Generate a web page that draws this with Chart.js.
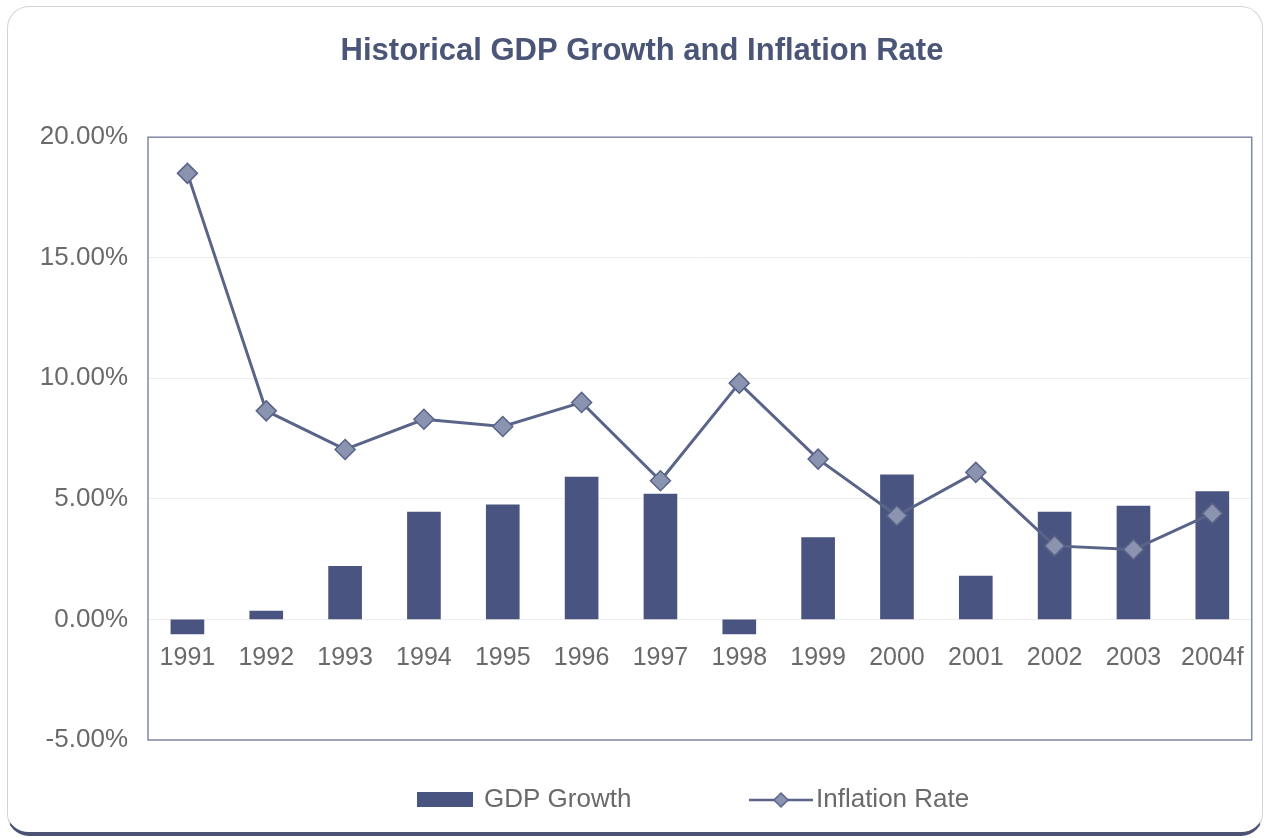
<!DOCTYPE html>
<html>
<head>
<meta charset="utf-8">
<script src="https://cdn.jsdelivr.net/npm/chart.js@4.4.1/dist/chart.umd.min.js"></script>
<style>
  html, body { margin: 0; padding: 0; background: #fff; }
  #card {
    position: absolute; left: 7px; top: 6px; width: 1256px; height: 830px;
    border: 1px solid #d4d4d8; border-bottom: 4px solid #4b5274;
    border-radius: 22px; box-sizing: border-box;
  }
  #myChart { position: absolute; left: 0; top: 0; }
</style>
</head>
<body>
<div id="card"></div>
<canvas id="myChart" width="1268" height="838"></canvas>
<script>
  // chart data
  var years = ["1991", "1992", "1993", "1994", "1995", "1996", "1997", "1998", "1999", "2000", "2001", "2002", "2003", "2004f"];
  var gdpGrowth = [-0.6, 0.35, 2.2, 4.45, 4.75, 5.9, 5.2, -0.6, 3.4, 6.0, 1.8, 4.45, 4.7, 5.3];
  var inflationRate = [18.5, 8.65, 7.05, 8.3, 8.0, 9.0, 5.75, 9.8, 6.65, 4.3, 6.1, 3.05, 2.9, 4.4];

  var barColor = "#4a5480";
  var lineColor = "#5a6488";
  var textColor = "#6a6a6a";
  var fontFam = "'Liberation Sans', Arial, sans-serif";

  // plot frame + custom legend
  var framePlugin = {
    id: "frame",
    beforeDatasetsDraw: function(chart) {
      var a = chart.chartArea, ctx = chart.ctx;
      ctx.save();
      ctx.strokeStyle = "#7f88a6";
      ctx.lineWidth = 1.5;
      ctx.strokeRect(a.left, a.top, a.right - a.left, a.bottom - a.top);
      ctx.restore();
    },
    afterDraw: function(chart) {
      var ctx = chart.ctx;
      var cy = 800;
      ctx.save();
      ctx.font = "26px " + fontFam;
      ctx.textBaseline = "middle";
      // GDP Growth
      ctx.fillStyle = barColor;
      ctx.fillRect(417, cy - 8, 56, 15);
      ctx.fillStyle = textColor;
      ctx.fillText(chart.data.datasets[1].label, 484, cy);
      // Inflation Rate
      ctx.strokeStyle = lineColor;
      ctx.lineWidth = 2.5;
      ctx.beginPath();
      ctx.moveTo(749, cy);
      ctx.lineTo(813, cy);
      ctx.stroke();
      ctx.beginPath();
      ctx.moveTo(781, cy - 7);
      ctx.lineTo(788, cy);
      ctx.lineTo(781, cy + 7);
      ctx.lineTo(774, cy);
      ctx.closePath();
      ctx.fillStyle = "#8a93b0";
      ctx.fill();
      ctx.lineWidth = 1.5;
      ctx.stroke();
      ctx.fillStyle = textColor;
      ctx.fillText(chart.data.datasets[0].label, 816, cy);
      ctx.restore();
    }
  };

  var ctx = document.getElementById("myChart").getContext("2d");
  var myChart = new Chart(ctx, {
    data: {
      labels: years,
      datasets: [{
        type: "line",
        label: "Inflation Rate",
        data: inflationRate,
        order: 0,
        borderColor: lineColor,
        borderWidth: 3,
        tension: 0,
        pointStyle: "rectRot",
        pointRadius: 10,
        pointBackgroundColor: "#8a93b0",
        pointBorderColor: lineColor,
        pointBorderWidth: 1.5
      }, {
        type: "bar",
        label: "GDP Growth",
        data: gdpGrowth,
        order: 1,
        backgroundColor: barColor,
        barThickness: 33
      }]
    },
    options: {
      responsive: false,
      animation: false,
      layout: { padding: { left: 25, right: 9, top: 0, bottom: 98 } },
      plugins: {
        legend: { display: false },
        tooltip: { enabled: false },
        title: {
          display: true,
          text: "Historical GDP Growth and Inflation Rate",
          color: "#4b5577",
          font: { family: fontFam, size: 31, weight: "bold" },
          padding: { top: 33, bottom: 67 }
        }
      },
      scales: {
        x: {
          position: { y: 0 },
          offset: true,
          grid: { display: false, drawTicks: false },
          border: { display: false },
          ticks: { color: textColor, font: { family: fontFam, size: 25 }, padding: 24, maxRotation: 0 }
        },
        y: {
          min: -5,
          max: 20,
          grid: { color: "#ededed", lineWidth: 1, drawTicks: false },
          border: { display: false },
          afterFit: function(scale) { scale.width = 123; },
          ticks: {
            stepSize: 5,
            color: textColor,
            padding: 20,
            font: { family: fontFam, size: 26 },
            callback: function(v) { return v.toFixed(2) + "%"; }
          }
        }
      }
    },
    plugins: [framePlugin]
  });
</script>
</body>
</html>
